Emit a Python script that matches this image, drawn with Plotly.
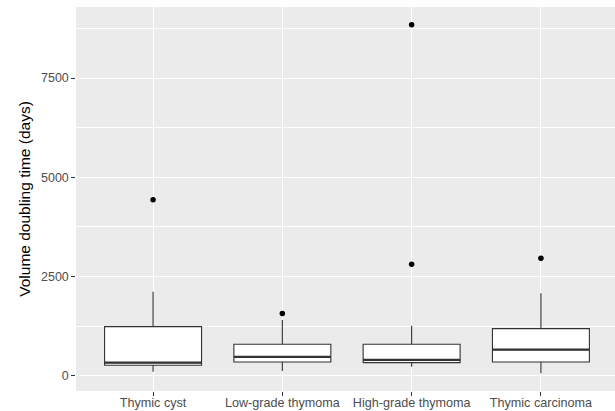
import plotly.graph_objects as go

categories = ["Thymic cyst", "Low-grade thymoma", "High-grade thymoma", "Thymic carcinoma"]
positions = [1, 2, 3, 4]
q1 = [270, 353, 335, 353]
median = [335, 479, 403, 662]
q3 = [1242, 798, 798, 1191]
lower_fence = [108, 126, 234, 68]
upper_fence = [2123, 1411, 1267, 2083]
outlier_x = [1, 2, 3, 3, 4]
outlier_y = [4433, 1570, 2810, 8841, 2964]
y_ticks = [0, 2500, 5000, 7500]

BOX_W = 0.75
fig = go.Figure()
fig.add_trace(go.Box(
    x=positions, q1=q1, median=median, q3=q3,
    lowerfence=lower_fence, upperfence=upper_fence,
    width=BOX_W, whiskerwidth=0, boxpoints=False,
    fillcolor="white", line=dict(color="#333333", width=1.1),
    showlegend=False, hoverinfo="skip",
))
# thicker median lines (ggplot fatten)
mx, my = [], []
for p, m in zip(positions, median):
    mx += [p - BOX_W / 2, p + BOX_W / 2, None]
    my += [m, m, None]
fig.add_trace(go.Scatter(x=mx, y=my, mode="lines",
                         line=dict(color="#333333", width=2.3),
                         showlegend=False, hoverinfo="skip"))
fig.add_trace(go.Scatter(x=outlier_x, y=outlier_y, mode="markers",
                         marker=dict(color="black", size=5.5),
                         showlegend=False, hoverinfo="skip"))

fig.update_layout(
    width=615, height=411,
    margin=dict(l=76, r=0, t=7, b=20, autoexpand=False),
    paper_bgcolor="white", plot_bgcolor="#EBEBEB",
    font=dict(family="Liberation Sans, Arial, sans-serif", color="#4D4D4D"),
    xaxis=dict(
        range=[0.404, 4.573], tickvals=positions, ticktext=categories,
        showgrid=True, gridcolor="white", gridwidth=1.1,
        zeroline=False, showline=False,
        ticks="outside", ticklen=3.7, tickcolor="#333333", tickwidth=1,
        ticklabelstandoff=-4,
        tickfont=dict(size=12.6, color="#4D4D4D"), automargin=False,
    ),
    yaxis=dict(
        range=[-378, 9287], tickvals=y_ticks,
        showgrid=True, gridcolor="white", gridwidth=1.1,
        minor=dict(tick0=1250, dtick=2500, showgrid=True, gridcolor="white", gridwidth=0.55),
        zeroline=False, showline=False,
        ticks="outside", ticklen=3.7, tickcolor="#333333", tickwidth=1,
        tickfont=dict(size=12.5, color="#4D4D4D"), automargin=False,
        title=dict(text="Volume doubling time (days)", font=dict(size=15.5, color="black"), standoff=6),
    ),
)
fig.write_html("out.html", config={"displayModeBar": False},
               post_script="document.body.style.margin='0';document.body.style.overflow='hidden';")
